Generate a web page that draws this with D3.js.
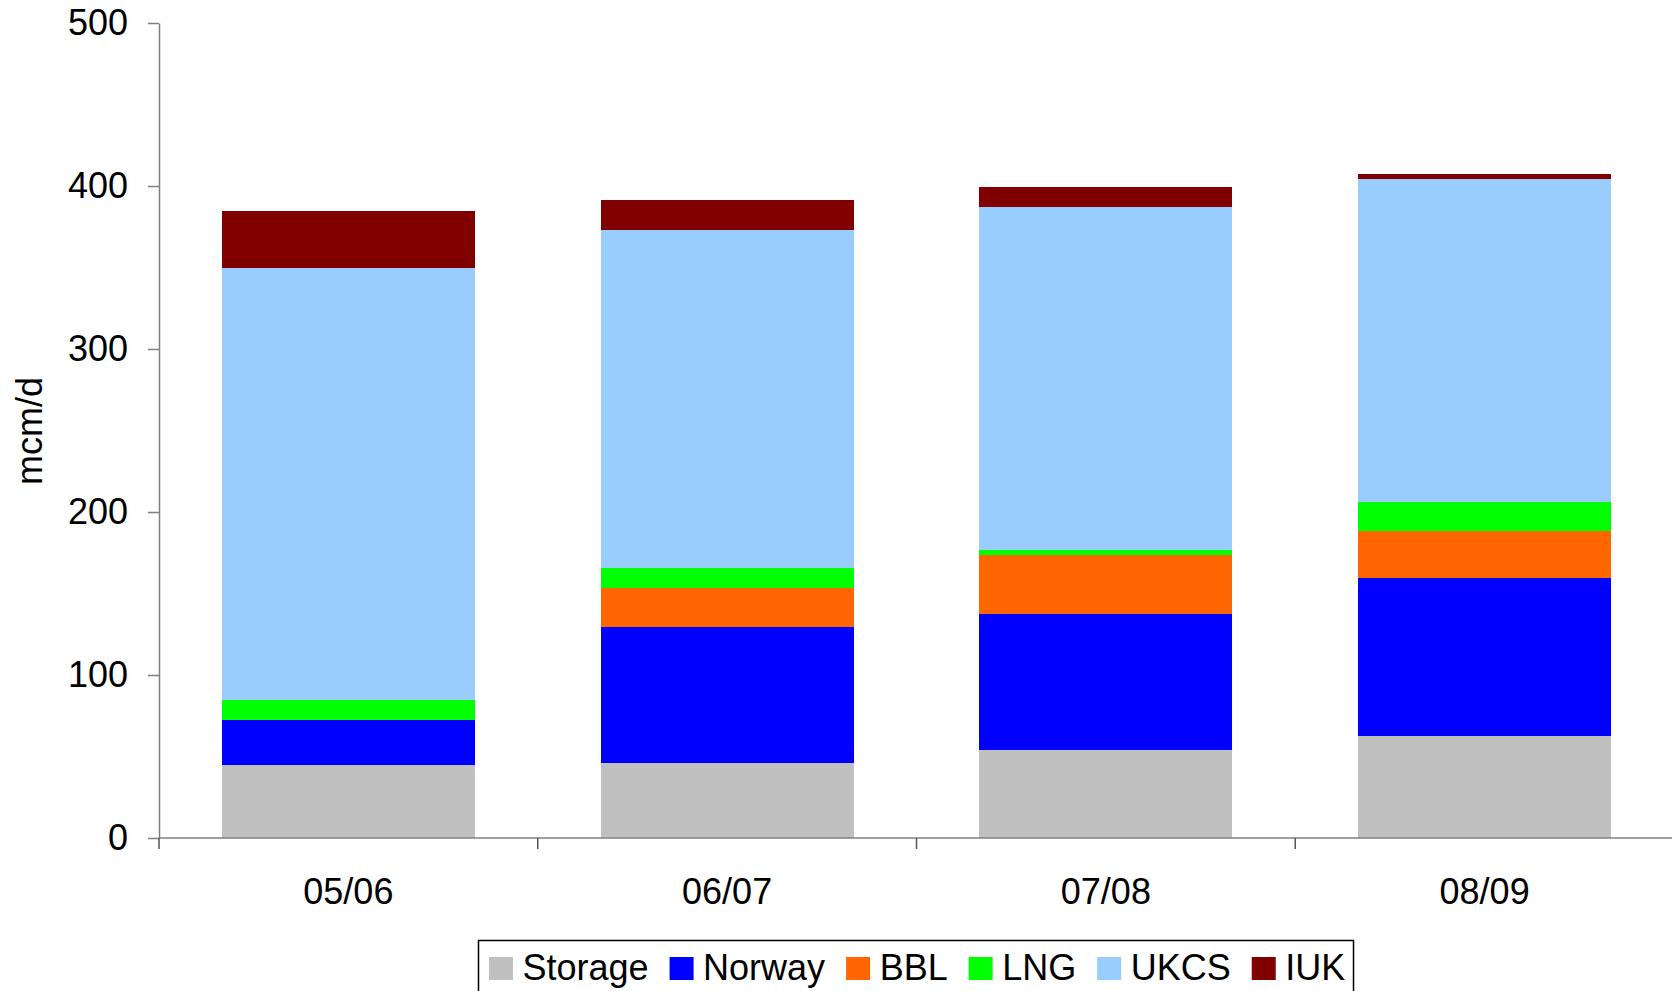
<!DOCTYPE html>
<html>
<head>
<meta charset="utf-8">
<script src="https://cdn.jsdelivr.net/npm/d3@7"></script>
<style>
  html, body { margin: 0; padding: 0; background: #fff; }
  svg { display: block; }
  text { font-family: "Liberation Sans", Arial, sans-serif; fill: #000; }
</style>
</head>
<body>
<svg id="chart" width="1672" height="991"></svg>
<script>
const categories = ["05/06", "06/07", "07/08", "08/09"];
const seriesNames = ["Storage", "Norway", "BBL", "LNG", "UKCS", "IUK"];
const storage = [45, 46, 54, 62.6];
const norway  = [27.4, 83.4, 83.4, 96.9];
const bbl     = [0, 24.2, 36.2, 28.7];
const lng     = [12.3, 12, 3.1, 17.9];
const ukcs    = [265, 207.4, 210.4, 198.2];
const iuk     = [35, 18.4, 12.3, 3.1];
const yTicks  = [0, 100, 200, 300, 400, 500];
const colors  = ["#C0C0C0", "#0000FF", "#FF6600", "#00FF00", "#99CCFF", "#800000"];
const yLabel  = "mcm/d";

const seriesValues = [storage, norway, bbl, lng, ukcs, iuk];
const table = categories.map((c, i) => {
  const row = { cat: c };
  seriesNames.forEach((s, j) => row[s] = seriesValues[j][i]);
  return row;
});

const svg = d3.select("#chart");
const plotLeft = 159, plotRight = 1674, plotTop = 23, plotBottom = 838;

const x = d3.scaleBand().domain(categories).range([plotLeft, plotRight])
  .paddingInner(0.332).paddingOuter(0.166);
const y = d3.scaleLinear().domain([0, 500]).range([plotBottom, plotTop]);
const color = d3.scaleOrdinal().domain(seriesNames).range(colors);

const stacked = d3.stack().keys(seriesNames)(table);

// bars
svg.append("g").selectAll("g").data(stacked).join("g")
  .attr("fill", d => color(d.key))
  .selectAll("rect").data(d => d).join("rect")
  .attr("x", d => x(d.data.cat))
  .attr("width", x.bandwidth())
  .attr("y", d => y(d[1]))
  .attr("height", d => Math.max(0, y(d[0]) - y(d[1])))
  .attr("shape-rendering", "crispEdges");

// y axis
const yAxis = svg.append("g").attr("transform", `translate(${plotLeft},0)`)
  .call(d3.axisLeft(y).tickValues(yTicks).tickSize(11).tickPadding(20).tickSizeOuter(0));
yAxis.select(".domain").attr("stroke", "#808080").attr("stroke-width", 1.5);
yAxis.selectAll(".tick line").attr("stroke", "#808080").attr("stroke-width", 1.5);
yAxis.selectAll(".tick text").attr("font-size", 36).attr("font-family", "Liberation Sans, Arial, sans-serif").attr("fill", "#000");

// x axis line
svg.append("line")
  .attr("x1", plotLeft).attr("x2", 1672)
  .attr("y1", y(0)).attr("y2", y(0))
  .attr("stroke", "#808080").attr("stroke-width", 1.5);

// x boundary ticks
const boundaries = d3.range(categories.length + 1).map(i => x.range()[0] + i * x.step());
svg.append("g").selectAll("line").data(boundaries).join("line")
  .attr("x1", d => d).attr("x2", d => d)
  .attr("y1", y(0)).attr("y2", y(0) + 11)
  .attr("stroke", "#555").attr("stroke-width", 1.5);

// x labels
svg.append("g").selectAll("text").data(categories).join("text")
  .attr("x", d => x(d) + x.bandwidth() / 2)
  .attr("y", 904)
  .attr("text-anchor", "middle")
  .attr("font-size", 36)
  .text(d => d);

// y label
svg.append("text")
  .attr("transform", "translate(42,431) rotate(-90)")
  .attr("text-anchor", "middle")
  .attr("font-size", 36)
  .text(yLabel);

// legend
const legend = svg.append("g");
legend.append("rect")
  .attr("x", 478.5).attr("y", 940.5)
  .attr("width", 875).attr("height", 80)
  .attr("fill", "#fff").attr("stroke", "#000").attr("stroke-width", 1.5);
let lx = 489;
seriesNames.forEach((s, i) => {
  legend.append("rect")
    .attr("x", lx).attr("y", 957).attr("width", 24).attr("height", 23)
    .attr("fill", colors[i]);
  const t = legend.append("text")
    .attr("x", lx + 33.5).attr("y", 980)
    .attr("font-size", 36)
    .text(s);
  lx = lx + 33.5 + t.node().getComputedTextLength() + 21;
});
</script>
</body>
</html>
